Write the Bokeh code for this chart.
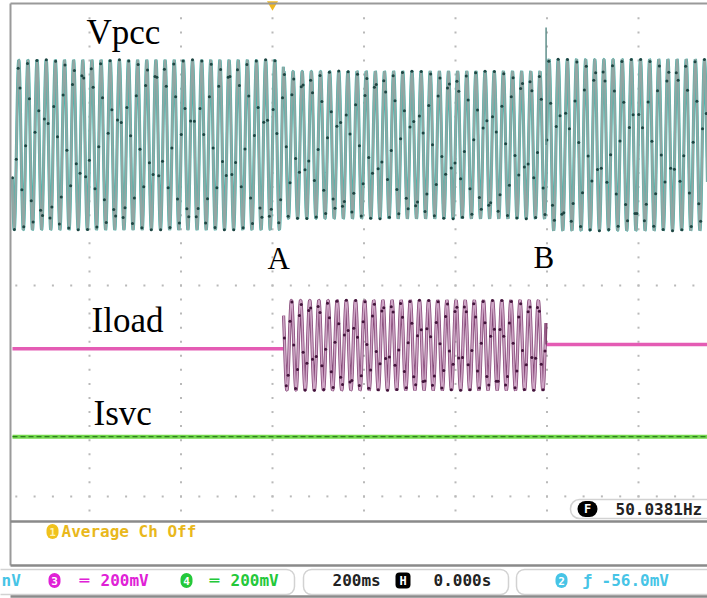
import numpy as np
from bokeh.plotting import figure
from bokeh.models import Range1d, Label, BoxAnnotation
from bokeh.embed import file_html
from bokeh.resources import INLINE

# ---- acquisition settings (from the scope readout) ----
freq_hz = 50.0381          # measured line frequency
sec_per_div = 0.2          # 200 ms/div
sample_rate = 244.0        # acquisition points per second (dots)
trace_rate = 2000.0        # drawing resolution of the vector trace

# ---- event instants, seconds after trigger ----
t_A = 0.024                # load switched in
t_B = 0.598                # load switched out

# ---- Vpcc: offset / amplitude per segment, in divisions ----
vpcc_offset = 2.0
vpcc_seg_start = [-0.57, 0.024, 0.598]
vpcc_seg_amp = [1.21, 1.05, 1.22]
vpcc_spike = 3.67

# ---- Iload ----
iload_level_before = -0.90
iload_level_after = -0.84
iload_offset = -0.85
iload_amp = 0.64

# ---- Isvc ----
isvc_level = -2.15

# ---- screen geometry ----
W, H = 707, 598
PX_DIV_X, PX_DIV_Y = 91.5, 70.3
TRIG_PX, ZERO_PX = 272, 285


def dx(px):
    return (px - TRIG_PX) / PX_DIV_X * sec_per_div


def dy(py):
    return (ZERO_PX - py) / PX_DIV_Y


t_start, t_end = dx(12), dx(707)

p = figure(width=W, height=H, x_range=Range1d(dx(0), dx(W)), y_range=Range1d(dy(H), dy(0)),
           output_backend="svg", toolbar_location=None, min_border=0,
           x_axis_location=None, y_axis_location=None, outline_line_color=None,
           background_fill_color="white", border_fill_color="white")
p.grid.visible = False

# ---- graticule (dotted) ----
vgrid_t = np.arange(-2, 5) * sec_per_div
div_ticks = np.arange(-16, 20) * 0.2
p.scatter(np.repeat(vgrid_t, len(div_ticks)), np.tile(div_ticks, len(vgrid_t)),
          marker="square", size=2, color="#b9b9b9", line_color=None)
row_t = np.arange(-14, 24) * sec_per_div / 5
for row in (0.0, -3.0):
    p.scatter(row_t, np.full(len(row_t), row), marker="square", size=2,
              color="#b9b9b9", line_color=None)


def vpcc_at(tt):
    amp = np.select([tt >= vpcc_seg_start[2], tt >= vpcc_seg_start[1]],
                    [vpcc_seg_amp[2], vpcc_seg_amp[1]], vpcc_seg_amp[0])
    return vpcc_offset + amp * np.sin(2 * np.pi * freq_hz * tt)


def iload_at(tt):
    return iload_offset + iload_amp * np.sin(2 * np.pi * freq_hz * tt + 1.1)


t_line = np.arange(t_start, t_end, 1.0 / trace_rate)
t_pts = np.arange(t_start, t_end, 1.0 / sample_rate)

# Vpcc
vl = vpcc_at(t_line)
p.line(t_line, vl, line_color="#4cb7ae", line_width=3.1)
p.line(t_line, vl, line_color="#93a6a3", line_width=2.1)
p.scatter(t_pts, vpcc_at(t_pts), size=3, color="#1f4542", line_color=None)
p.segment(x0=[t_B], y0=[vpcc_offset], x1=[t_B], y1=[vpcc_spike], line_color="#5f8f8b", line_width=1.5)

# Iload
p.line([t_start, t_A], [iload_level_before] * 2, line_color="#e45cb4", line_width=3.5)
p.line([t_B, t_end], [iload_level_after] * 2, line_color="#e45cb4", line_width=3.5)
ti = t_line[(t_line >= t_A) & (t_line <= t_B)]
il = iload_at(ti)
p.line(ti, il, line_color="#864a79", line_width=3.2)
p.line(ti, il, line_color="#cfa6c6", line_width=1.6)
tp = t_pts[(t_pts >= t_A) & (t_pts <= t_B)]
p.scatter(tp, iload_at(tp), size=3, color="#42133a", line_color=None)
p.segment(x0=[t_B], y0=[il[-1]], x1=[t_B], y1=[iload_level_after], line_color="#7a3a66", line_width=1.5)

# Isvc
p.line([t_start, t_end], [isvc_level] * 2, line_color="#74d84e", line_width=4)
p.line([t_start, t_end], [isvc_level] * 2, line_color="#2f7f1f", line_width=1.2, line_dash="5 3")

# trigger position marker
p.scatter([0.0], [dy(4)], marker="inverted_triangle", size=11, color="#f0b820", line_color=None)

# ---- screen frame ----
p.segment(x0=[dx(10), dx(10)], y0=[dy(3), dy(3)], x1=[dx(710), dx(10)], y1=[dy(3), dy(565)],
          line_color="#9a9a9a", line_width=2)
p.segment(x0=[dx(10), dx(10), dx(10)], y0=[dy(521), dy(565), dy(596)],
          x1=[dx(710), dx(710), dx(710)], y1=[dy(521), dy(565), dy(596)],
          line_color="#8a8a8a", line_width=2.5)

# trace labels
serif = "Liberation Serif"
for txt, px, py, fs in [("Vpcc", 86, 32, "35px"), ("Iload", 91, 320, "35px"),
                        ("Isvc", 93, 413, "35px"), ("A", 267, 258, "31px"),
                        ("B", 533, 257, "31px")]:
    p.add_layout(Label(x=dx(px), y=dy(py), text=txt, text_font=serif, text_font_size=fs,
                       text_color="black", text_baseline="alphabetic"))

mono = "DejaVu Sans Mono"


def badge(cx, cy, w, h, fill, txt, txt_color, size="11px"):
    p.add_layout(BoxAnnotation(left=dx(cx - w / 2), right=dx(cx + w / 2), top=dy(cy - h / 2),
                               bottom=dy(cy + h / 2), fill_color=fill, fill_alpha=1,
                               line_color=None, border_radius=int(min(w, h) // 2)))
    p.add_layout(Label(x=dx(cx), y=dy(cy), text=txt, text_font=mono, text_font_style="bold",
                       text_font_size=size, text_color=txt_color, text_align="center",
                       text_baseline="middle"))


# frequency readout
p.add_layout(BoxAnnotation(left=dx(570), right=dx(730), top=dy(499), bottom=dy(518),
                           fill_color="white", fill_alpha=1, line_color="#6a6a6a",
                           line_width=1.5, border_radius=9))
badge(587, 508.5, 20, 16, "black", "F", "white", "12px")
p.add_layout(Label(x=dx(615), y=dy(509), text="50.0381Hz", text_font=mono,
                   text_font_style="bold", text_font_size="16px", text_color="#222222",
                   text_baseline="middle"))

# message line
badge(52, 531, 12, 15, "#f0c21c", "1", "#fff2b0")
p.add_layout(Label(x=dx(61), y=dy(531), text="Average Ch Off", text_font=mono,
                   text_font_style="bold", text_font_size="16px", text_color="#e9b81c",
                   text_baseline="middle"))

# status bar boxes
for l, r in [(-20, 294), (303, 508), (516, 740)]:
    p.add_layout(BoxAnnotation(left=dx(l), right=dx(r), top=dy(569), bottom=dy(594),
                               fill_alpha=0, line_color="#6a6a6a", line_width=1.5,
                               border_radius=8))

cyan, magenta, green = "#46c4e6", "#e021d6", "#24c83a"
badge(54, 580, 12, 15, magenta, "3", "white")
badge(186, 580, 12, 15, green, "4", "white")
badge(561, 580, 12, 15, cyan, "2", "white")

# H (horizontal position) icon
p.add_layout(BoxAnnotation(left=dx(395), right=dx(410), top=dy(572), bottom=dy(588),
                           fill_color="black", fill_alpha=1, line_color=None, border_radius=4))
p.add_layout(Label(x=dx(402.5), y=dy(580), text="H", text_font=mono, text_font_style="bold",
                   text_font_size="12px", text_color="white", text_align="center",
                   text_baseline="middle"))

for txt, px, col in [("nV", 1, cyan), ("\u2550", 79, magenta), ("200mV", 100, magenta),
                     ("\u2550", 209, green), ("200mV", 230, green),
                     ("200ms", 332, "#222222"), ("0.000s", 433, "#222222"),
                     ("\u0192", 582, cyan), ("-56.0mV", 601, cyan)]:
    p.add_layout(Label(x=dx(px), y=dy(580), text=txt, text_font=mono, text_font_style="bold",
                       text_font_size="16px", text_color=col, text_baseline="middle"))

open("out.html", "w").write(file_html(p, INLINE))
